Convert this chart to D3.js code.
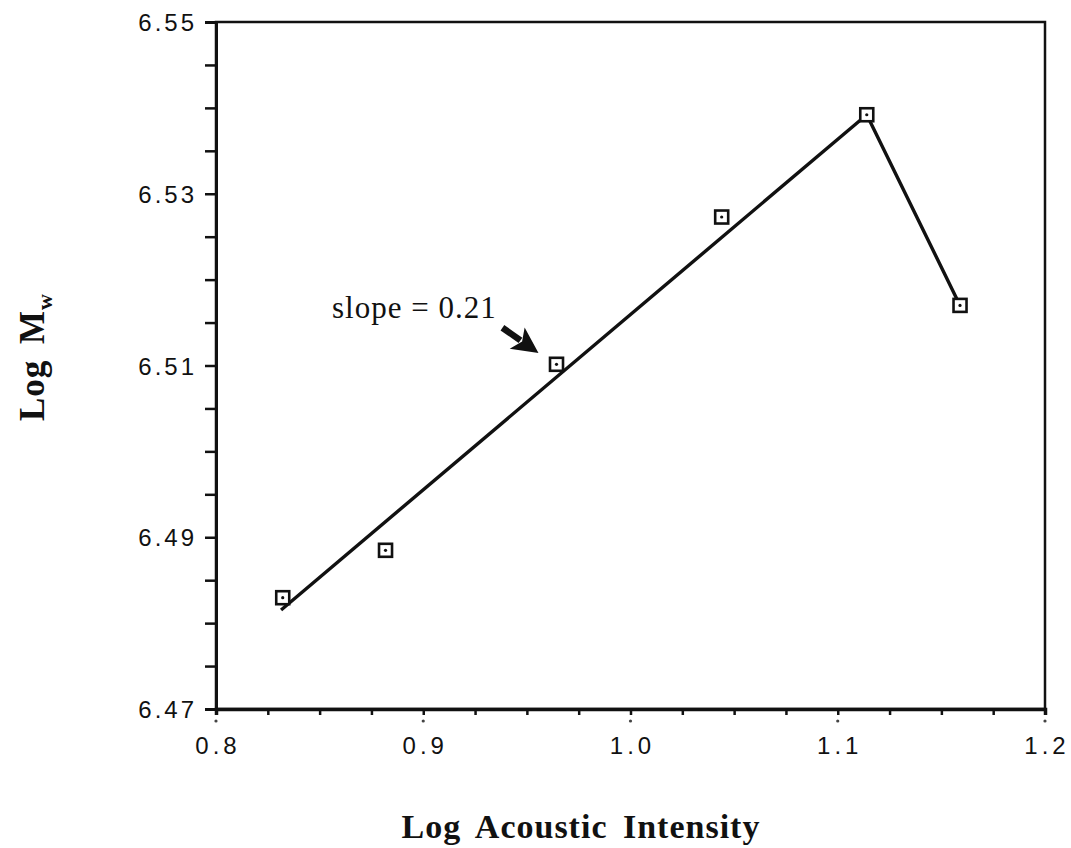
<!DOCTYPE html>
<html>
<head>
<meta charset="utf-8">
<script src="https://cdn.jsdelivr.net/npm/d3@7"></script>
<style>
  html, body { margin: 0; padding: 0; background: #fff; }
  svg { display: block; }
</style>
</head>
<body>
<svg id="chart" width="1071" height="848"></svg>
<script>
// Measured molecular weight vs. acoustic intensity
const logIntensity = [0.8322, 0.8818, 0.9643, 1.0440, 1.1140, 1.1590];
const logMw        = [6.48296, 6.48848, 6.51014, 6.52729, 6.53920, 6.51700];

// Fitted trend (slope = 0.21) up to the maximum, then the drop to the last point
const trendX = [0.8314, 1.1140, 1.1590];
const trendY = [6.48153, 6.53920, 6.51700];

// Axis ticks
const xMajorTicks = [0.8, 0.9, 1.0, 1.1, 1.2];
const xTickLabels = ["0.8", "0.9", "1.0", "1.1", "1.2"];
const yMajorTicks = [6.47, 6.49, 6.51, 6.53, 6.55];
const yTickLabels = ["6.47", "6.49", "6.51", "6.53", "6.55"];

// Slope annotation: label anchor, arrow tail and arrow tip
const slopeLabel = "slope = 0.21";
const labelPos = [0.8560, 6.51553];
const arrowTail = [0.9382, 6.51440];
const arrowTip  = [0.9556, 6.51146];

const svg = d3.select("#chart");
const margin = { top: 22, right: 26, bottom: 139, left: 216 };
const W = 1071, H = 848;
const innerW = W - margin.left - margin.right;
const innerH = H - margin.top - margin.bottom;

const x = d3.scaleLinear().domain([0.8, 1.2]).range([0, innerW]);
const y = d3.scaleLinear().domain([6.47, 6.55]).range([innerH, 0]);

const g = svg.append("g").attr("transform", `translate(${margin.left},${margin.top})`);

// Frame
g.append("rect")
  .attr("x", 0).attr("y", 0)
  .attr("width", innerW).attr("height", innerH)
  .attr("fill", "none").attr("stroke", "#111").attr("stroke-width", 2.5);

// X axis: minor ticks every 0.025, hanging below the axis, dots under major ticks
const xMinor = d3.range(0, 17).map(i => 0.8 + i * 0.025);
const xAxis = d3.axisBottom(x)
  .tickValues(xMinor)
  .tickSize(6)
  .tickFormat("");
const xa = g.append("g").attr("transform", `translate(0,${innerH})`).call(xAxis);
xa.select(".domain").attr("stroke", "#111").attr("stroke-width", 3.5);
xa.selectAll(".tick line").attr("stroke", "#111").attr("stroke-width", 2.5);

g.selectAll(".xdot").data(xMajorTicks).join("circle")
  .attr("class", "xdot")
  .attr("cx", d => x(d)).attr("cy", innerH + 12)
  .attr("r", 1.6).attr("fill", "#444");

g.selectAll(".xlab").data(xMajorTicks).join("text")
  .attr("class", "xlab")
  .attr("x", d => x(d) + 2).attr("y", innerH + 45)
  .attr("text-anchor", "middle")
  .attr("font-family", "Liberation Sans, Arial, sans-serif")
  .attr("font-size", 24).attr("letter-spacing", 4)
  .attr("fill", "#111")
  .text((d, i) => xTickLabels[i]);

// Y axis: ticks every 0.005 pointing outward
const yMinor = d3.range(0, 17).map(i => 6.47 + i * 0.005);
const yAxis = d3.axisLeft(y)
  .tickValues(yMinor)
  .tickSize(11)
  .tickFormat("");
const ya = g.append("g").call(yAxis);
ya.select(".domain").attr("stroke", "#111").attr("stroke-width", 3);
ya.selectAll(".tick line").attr("stroke", "#111").attr("stroke-width", 2.5);

g.selectAll(".ylab").data(yMajorTicks).join("text")
  .attr("class", "ylab")
  .attr("x", -19).attr("y", d => y(d) + 9)
  .attr("text-anchor", "end")
  .attr("font-family", "Liberation Sans, Arial, sans-serif")
  .attr("font-size", 24).attr("letter-spacing", 3)
  .attr("fill", "#111")
  .text((d, i) => yTickLabels[i]);

// Trend line
const line = d3.line().x(d => x(d[0])).y(d => y(d[1]));
g.append("path")
  .datum(trendX.map((v, i) => [v, trendY[i]]))
  .attr("d", line)
  .attr("fill", "none").attr("stroke", "#111").attr("stroke-width", 3.4)
  .attr("stroke-linejoin", "round");

// Data markers: open squares with a centre dot
const pts = logIntensity.map((v, i) => [v, logMw[i]]);
const sq = 13;
g.selectAll(".pt").data(pts).join("rect")
  .attr("class", "pt")
  .attr("x", d => x(d[0]) - sq / 2).attr("y", d => y(d[1]) - sq / 2)
  .attr("width", sq).attr("height", sq)
  .attr("fill", "#fff").attr("stroke", "#111").attr("stroke-width", 2.6);
g.selectAll(".ptdot").data(pts).join("circle")
  .attr("class", "ptdot")
  .attr("cx", d => x(d[0])).attr("cy", d => y(d[1]))
  .attr("r", 1.6).attr("fill", "#111");

// Slope annotation
g.append("text")
  .attr("x", x(labelPos[0])).attr("y", y(labelPos[1]))
  .attr("font-family", "Liberation Serif, Times New Roman, serif")
  .attr("font-size", 31).attr("letter-spacing", 1)
  .attr("fill", "#111")
  .text(slopeLabel);

const tx = x(arrowTail[0]), ty = y(arrowTail[1]);
const hx = x(arrowTip[0]), hy = y(arrowTip[1]);
const ang = Math.atan2(hy - ty, hx - tx);
const headLen = 26, headHalf = 13;
const bx = hx - headLen * Math.cos(ang), by = hy - headLen * Math.sin(ang);
g.append("line")
  .attr("x1", tx).attr("y1", ty).attr("x2", bx + 4 * Math.cos(ang)).attr("y2", by + 4 * Math.sin(ang))
  .attr("stroke", "#111").attr("stroke-width", 6.5);
g.append("path")
  .attr("d", `M${hx},${hy} L${bx - headHalf * Math.sin(ang)},${by + headHalf * Math.cos(ang)} L${bx + 6 * Math.cos(ang)},${by + 6 * Math.sin(ang)} L${bx + headHalf * Math.sin(ang)},${by - headHalf * Math.cos(ang)} Z`)
  .attr("fill", "#111");

// Axis titles
svg.append("text")
  .attr("x", 581).attr("y", 838)
  .attr("text-anchor", "middle")
  .attr("font-family", "Liberation Serif, Times New Roman, serif")
  .attr("font-weight", "bold")
  .attr("font-size", 34).attr("letter-spacing", 1).attr("word-spacing", 6)
  .attr("fill", "#111")
  .text("Log Acoustic Intensity");

const yt = svg.append("text")
  .attr("transform", "translate(44,357) rotate(-90)")
  .attr("text-anchor", "middle")
  .attr("font-family", "Liberation Serif, Times New Roman, serif")
  .attr("font-weight", "bold")
  .attr("font-size", 35).attr("letter-spacing", 1).attr("word-spacing", 6)
  .attr("fill", "#111");
yt.append("tspan").text("Log M");
yt.append("tspan").attr("font-size", 22).attr("dy", 8).text("w");
</script>
</body>
</html>
